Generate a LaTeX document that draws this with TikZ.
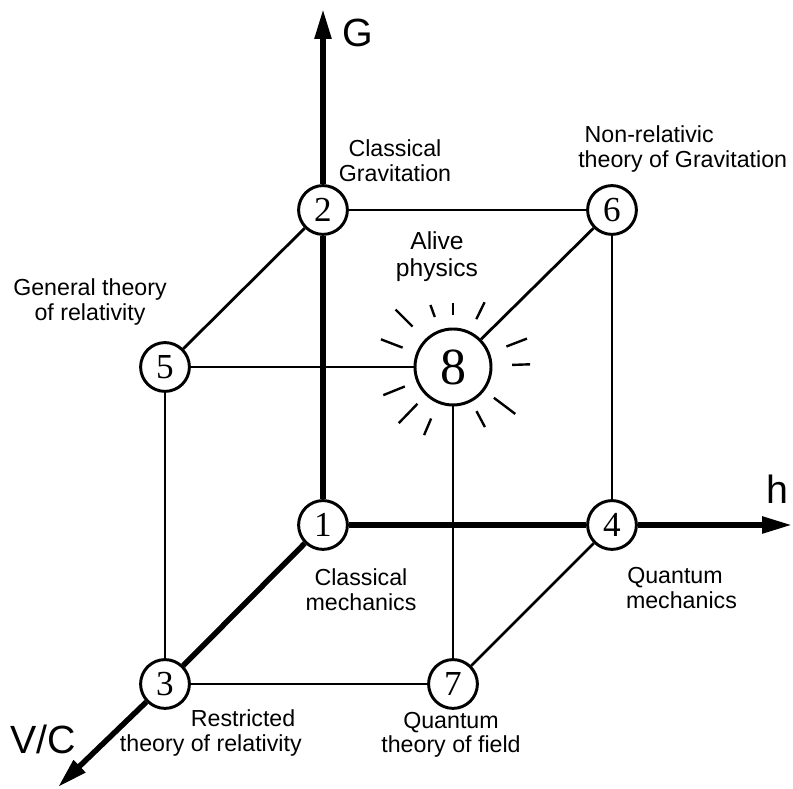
\documentclass[tikz,border=0pt]{standalone}
\usepackage{fontspec}
\setmainfont{Liberation Sans}
\newfontfamily\numfont{Liberation Serif}
\usetikzlibrary{arrows.meta,positioning}

\begin{document}
\begin{tikzpicture}[
		vertex/.style={circle,draw,line width=2.1pt,fill=white,minimum size=1.22cm,inner sep=0pt,
			font=\numfont\fontsize{25}{25}\selectfont},
		bigvertex/.style={vertex,minimum size=1.9cm,font=\numfont\fontsize{37}{37}\selectfont},
		edge/.style={line width=2pt},
		axis/.style={line width=3.9pt,-{Triangle[length=0.75cm,width=0.4cm]}},
		ray/.style={line width=1.7pt},
		lbl/.style={align=center,inner sep=0pt,font=\fontsize{16.5}{17.5}\selectfont},
		axlbl/.style={inner sep=0pt,font=\fontsize{28}{28}\selectfont}
	]
			\useasboundingbox (0,0) rectangle (19.825,19.725);
			% back square
			\node[vertex] (n1) at (8.075,6.6) {1};
			\node[vertex] (n2) at (8.075,14.475) {2};
			\node[vertex] (n6) at (15.3,14.475) {6};
			\node[vertex] (n4) at (15.3,6.6) {4};
			% front square
			\node[vertex] (n5) at (4.125,10.55) {5};
			\node[bigvertex] (n8) at (11.325,10.55) {8};
			\node[vertex] (n7) at (11.325,2.625) {7};
			\node[vertex] (n3) at (4.125,2.625) {3};
			% axis tips
			\coordinate (Gtip) at (8.075,19.5);
			\coordinate (htip) at (19.8,6.6);
			\coordinate (vctip) at (1.45,0.05);
			% edges
			\foreach \a/\b in {n2/n6,n2/n5,n5/n8,n8/n6,n5/n3,n6/n4,n8/n7,n3/n7,n7/n4} {
				\draw[edge] (\a) -- (\b);
			}
			% axes
			\draw[line width=3.9pt] (n1) -- (n2);
			\draw[line width=3.9pt] (n1) -- (n4);
			\draw[line width=3.9pt] (n1) -- (n3);
			\draw[axis] (n2) -- (Gtip);
			\draw[axis] (n4) -- (htip);
			\draw[axis] (n3) -- (vctip);
			% rays of 8
			\foreach \a/\r/\R in {135/1.43/2.03,110/1.33/1.65,90/1.3/1.6,64/1.33/1.8,
				21/1.43/1.98,2/1.48/1.93,-37/1.28/1.95,-62/1.25/1.7,
				-113/1.4/1.85,-134/1.28/1.95,-158/1.3/1.88,159/1.35/1.93} {
				\draw[ray,shift={(n8)}] (\a:\r) -- (\a:\R);
			}
			% axis labels
			\node[axlbl] (G) at (8.95,18.9) {G};
			\node[axlbl] (h) at (19.425,7.5) {h};
			\node[axlbl] (VC) at (1.075,1.25) {V/C};
			% labels
			\node[lbl] (gtr) at (2.25,12.175) {General theory\\of relativity};
			\node[lbl] (cg) at (9.875,15.7) {Classical\\Gravitation};
			\node[lbl,align=left,anchor=west] (nrg) at (14.45,16.0) {\ Non-relativic\\theory of Gravitation};
			\node[lbl,font=\fontsize{17.5}{19}\selectfont] (alive) at (10.925,13.3) {Alive\\physics};
			\node[lbl] (cm) at (9.025,4.975) {Classical\\mechanics};
			\node[lbl] (qm) at (16.875,5.025) {Quantum\\\ \ mechanics};
			\node[lbl,align=right,anchor=east] (rtr) at (7.55,1.4) {Restricted\ \ \\theory of relativity};
			\node[lbl] (qtf) at (11.275,1.35) {Quantum\\theory of field};
		\end{tikzpicture}
\end{document}
